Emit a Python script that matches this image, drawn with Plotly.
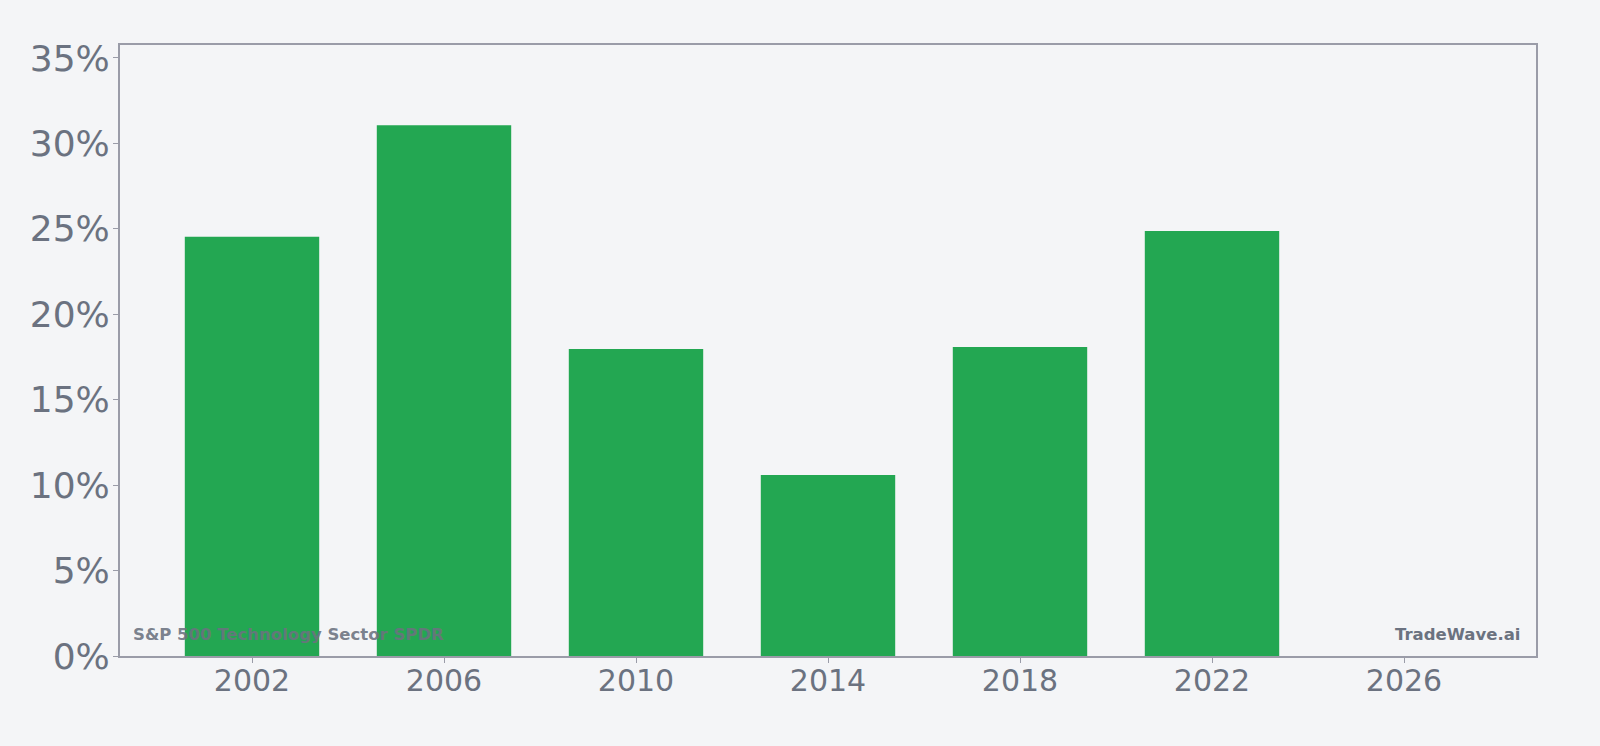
import plotly.graph_objects as go

years = [2002, 2006, 2010, 2014, 2018, 2022]
returns_pct = [24.54, 31.07, 17.97, 10.6, 18.09, 24.87]
x_ticks = [2002, 2006, 2010, 2014, 2018, 2022, 2026]
y_ticks = [0, 5, 10, 15, 20, 25, 30, 35]

text_color = "#6b7280"
axis_color = "#9a9ca8"
bg = "#f4f5f7"

fig = go.Figure(go.Bar(
    x=years, y=returns_pct, width=2.8,
    marker=dict(color="#23a752", line=dict(width=0)),
    hoverinfo="skip",
))

fig.update_layout(
    width=1600, height=746,
    paper_bgcolor=bg, plot_bgcolor=bg,
    margin=dict(l=120, r=64, t=45, b=90),
    font=dict(family="DejaVu Sans", color=text_color),
    showlegend=False,
    annotations=[
        dict(text="<b>S&P 500 Technology Sector SPDR</b>", xref="paper", yref="paper",
             x=0.008, y=0.017, xanchor="left", yanchor="bottom", showarrow=False,
             font=dict(size=16.5, color="rgba(107,114,128,0.9)")),
        dict(text="<b>TradeWave.ai</b>", xref="paper", yref="paper",
             x=0.99, y=0.017, xanchor="right", yanchor="bottom", showarrow=False,
             font=dict(size=16.5, color="rgba(107,114,128,1)")),
    ],
)
fig.update_xaxes(
    range=[1999.25, 2028.75], tickvals=x_ticks, ticktext=[str(t) for t in x_ticks],
    tickfont=dict(size=30, color=text_color),
    showgrid=False, zeroline=False,
    showline=True, linecolor=axis_color, linewidth=2, mirror=True,
    ticks="outside", ticklen=5, tickcolor=axis_color, tickwidth=1,
    ticklabelstandoff=-8,
)
fig.update_yaxes(
    range=[0, 35.76], tickvals=y_ticks, ticktext=[f"{t}%" for t in y_ticks],
    tickfont=dict(size=36, color=text_color),
    showgrid=False, zeroline=False,
    showline=True, linecolor=axis_color, linewidth=2, mirror=True,
    ticks="outside", ticklen=5, tickcolor=axis_color, tickwidth=1,
    ticklabelstandoff=-4,
)

fig.write_html("out.html")
